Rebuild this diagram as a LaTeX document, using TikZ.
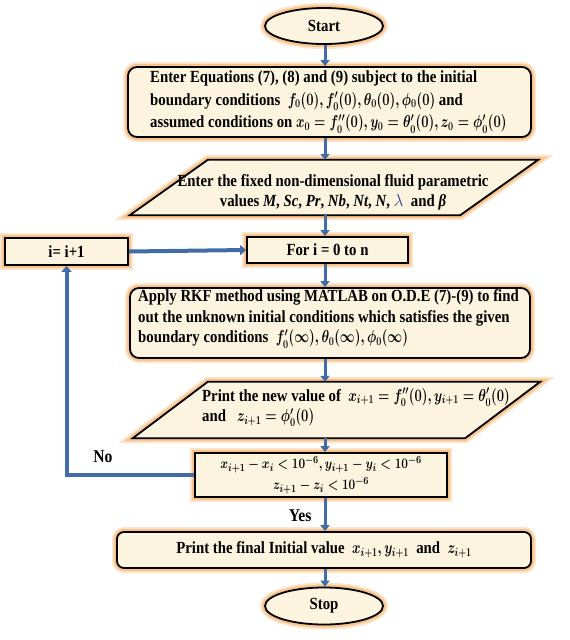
\documentclass[tikz,border=0pt]{standalone}
\usepackage{amsmath,bm,graphicx}
\usepackage{fontspec}
\setmainfont{Liberation Serif}[FakeStretch=0.87]
\usetikzlibrary{arrows.meta,shapes.geometric,calc}
\definecolor{cream}{RGB}{253,244,224}
\definecolor{glow}{RGB}{248,196,140}
\definecolor{flowblue}{RGB}{65,108,168}
\definecolor{lamblue}{RGB}{40,70,160}
\newcommand\mth[2][0.75]{\scalebox{#1}[1]{$#2$}}
\tikzset{
  base/.style={draw=black, line width=1.8pt, fill=cream,
    preaction={draw=glow!45, line width=10pt},
    preaction={draw=glow, line width=6pt},
    font=\fontsize{17}{20.5}\selectfont\bfseries\boldmath, inner sep=0pt},
  sqbox/.style={base, rectangle},
  rbox/.style={base, rectangle, rounded corners=9pt},
  term/.style={base, ellipse},
  ghost/.style={rectangle, inner sep=0pt},
  txt/.style={font=\fontsize{17}{20.5}\selectfont\bfseries\boldmath, inner sep=0pt},
  flow/.style={draw=flowblue, line width=3pt, -{Triangle[width=9pt,length=6pt]}},
  bigflow/.style={draw=flowblue, line width=4pt, -{Triangle[width=10pt,length=6pt]}},
}
\begin{document}
\begin{tikzpicture}[x=1pt,y=-1pt]
\useasboundingbox (0,0) rectangle (570,640);
% start
\node[term, minimum width=118pt, minimum height=36pt] (start) at (324,26) {Start};
% box1
\node[rbox, minimum width=403pt, minimum height=70pt] (box1) at (329.5,102) {};
\node[txt, align=left, anchor=west, font=\fontsize{17}{22.5}\selectfont\bfseries\boldmath] (box1t) at (150,102)
 {Enter Equations (7), (8) and (9) subject to the initial\\
  boundary conditions\ \ \mth{f_0(0), f_0'(0), \theta_0(0), \phi_0(0)}\ and\\
  assumed conditions on \mth{x_0 = f_0''(0), y_0 = \theta_0'(0), z_0 = \phi_0'(0)}};
% parallelogram 1
\node[ghost, minimum width=408pt, minimum height=55pt] (para1) at (334,187.5) {};
\draw[base] (para1.south west) -- ($(para1.north west)+(78,0)$) -- (para1.north east)
  -- ($(para1.south east)-(78,0)$) -- cycle;
\node[txt, align=center] (para1t) at (333,192.5)
 {Enter the fixed non-dimensional fluid parametric\\
  values \textit{M}, \textit{Sc}, \textit{Pr}, \textit{Nb}, \textit{Nt}, \textit{N}, {\color{lamblue}\unboldmath$\lambda$}\ \ and \textit{β}};
% for / increment
\node[sqbox, minimum width=123pt, minimum height=27pt] (inc) at (66.5,251.5) {i= i+1};
\node[sqbox, minimum width=161pt, minimum height=26pt] (for) at (327.5,250) {For i = 0 to n};
% RKF
\node[rbox, minimum width=400pt, minimum height=70pt] (rkf) at (330,323) {};
\node[txt, align=left, anchor=west] (rkft) at (138,319)
 {Apply RKF method using MATLAB on O.D.E (7)-(9) to find\\
  out the unknown initial conditions which satisfies the given\\
  boundary conditions\ \ \mth{f_0'(\infty), \theta_0(\infty), \phi_0(\infty)}};
% parallelogram 2
\node[ghost, minimum width=407pt, minimum height=56pt] (para2) at (336.5,410) {};
\draw[base] (para2.south west) -- ($(para2.north west)+(75,0)$) -- (para2.north east)
  -- ($(para2.south east)-(75,0)$) -- cycle;
\node[txt, align=left, anchor=west] (para2t) at (202,407.5)
 {Print the new value of\ \ \mth{x_{i+1} = f_0''(0), y_{i+1} = \theta_0'(0)}\\
  and\ \ \ \mth{z_{i+1} = \phi_0'(0)}};
% decision
\node[sqbox, minimum width=252pt, minimum height=44pt, align=center,
      font=\fontsize{15}{21}\selectfont\bfseries\boldmath] (dec) at (321,475)
 {\mth[0.82]{x_{i+1} - x_i < 10^{-6}, y_{i+1} - y_i < 10^{-6}}\\ \mth[0.82]{z_{i+1} - z_i < 10^{-6}}};
% final
\node[rbox, rounded corners=7pt, minimum width=414pt, minimum height=36pt] (final) at (324,550)
 {Print the final Initial value\ \ \mth{x_{i+1}, y_{i+1}}\ \ and\ \ \mth{z_{i+1}}};
% stop
\node[term, minimum width=118pt, minimum height=37pt] (stop) at (324,606) {Stop};
% connectors
\coordinate (col) at (325,0);
\draw[flow] (start.south -| col) -- (box1.north -| col);
\draw[flow] (box1.south -| col) -- (para1.north -| col);
\draw[flow] (para1.south -| col) -- (for.north -| col);
\draw[flow] (for.south -| col) -- (rkf.north -| col);
\draw[flow] (rkf.south -| col) -- (para2.north -| col);
\draw[flow] (para2.south -| col) -- (dec.north -| col);
\draw[flow] (dec.south -| col) -- node[txt, left=12pt, pos=0.55, font=\fontsize{18}{20}\selectfont\bfseries] (yes) {Yes} (final.north -| col);
\draw[flow] (final.south -| col) -- (stop.north -| col);
\draw[bigflow] (inc.east) -- (for.west);
\draw[bigflow] (dec.west) -| (inc.south);
\node[txt, font=\fontsize{18}{20}\selectfont\bfseries] (no) at (103,457) {No};
\end{tikzpicture}
\end{document}
